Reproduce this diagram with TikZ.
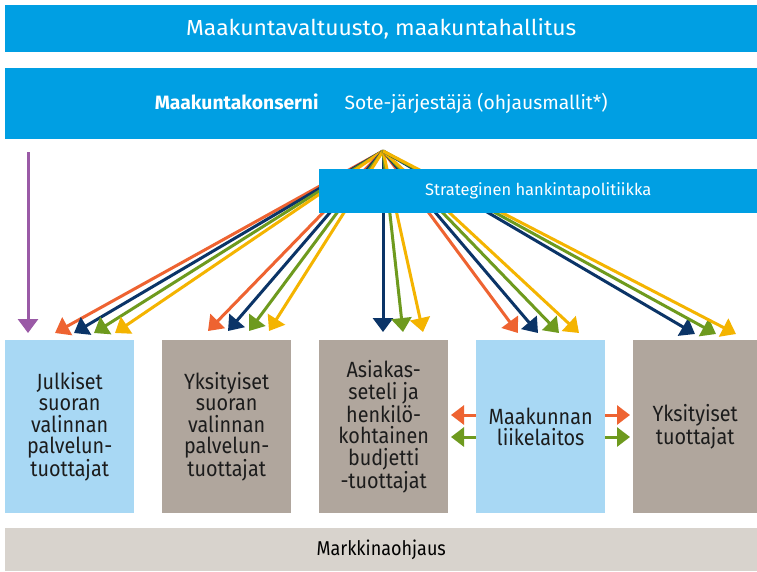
\documentclass[tikz,border=0pt]{standalone}
\usepackage{fontspec}
\setmainfont{Fira Sans}
\newfontfamily\unitfont{Fira Sans}[FakeStretch=0.9]
\newfontfamily\widefont{Fira Sans}[FakeStretch=1.05]
\usetikzlibrary{arrows.meta}
\definecolor{barblue}{HTML}{009FE3}
\definecolor{paleblue}{HTML}{A8D8F4}
\definecolor{taupe}{HTML}{B0A69D}
\definecolor{sand}{HTML}{D8D3CD}
\definecolor{arrorange}{HTML}{EE6331}
\definecolor{arrnavy}{HTML}{0B3467}
\definecolor{arrgreen}{HTML}{6E9A1E}
\definecolor{arryellow}{HTML}{F4B400}
\definecolor{arrpurple}{HTML}{9A5AA6}
\definecolor{inktext}{HTML}{1C1C1C}
\tikzset{
  bar/.style={fill=barblue, draw=none, anchor=north west, inner sep=0pt, text=white},
  unit/.style={draw=none, anchor=north west, inner sep=0pt, minimum width=129pt,
    minimum height=173pt, align=center, text=inktext,
    font=\unitfont\fontsize{22}{21.5}\selectfont},
  fanline/.style={line width=3pt, -{Triangle[length=14pt,width=20pt]}},
  sideline/.style={line width=3pt, -{Triangle[length=13pt,width=19pt]}}
}
\begin{document}
\begin{tikzpicture}[x=1pt,y=-1pt]
\useasboundingbox (0,0) rectangle (757,571);
\fill[white] (0,0) rectangle (757,571);

% governing bodies
\node[bar, minimum width=752pt, minimum height=47pt,
  font=\widefont\fontsize{21.8}{24}\selectfont] (council) at (5,5)
  {Maakuntavaltuusto, maakuntahallitus};
\node[bar, minimum width=752pt, minimum height=71pt,
  font=\fontsize{19.3}{22}\selectfont] (group) at (5,68)
  {{\bfseries Maakuntakonserni}\hspace{26pt}Sote-järjestäjä (ohjausmallit*)};

% fan of steering arrows
\coordinate (fan) at (383,151);
\foreach \n/\x/\y/\c in {
   a1/55/333/arrorange, a2/74/333/arrnavy, a3/94/333/arrgreen, a4/115/333/arryellow,
   b1/208/331/arrorange, b2/228/331/arrnavy, b3/249/331/arrgreen, b4/269/331/arryellow,
   c2/383/332/arrnavy, c3/403/332/arrgreen, c4/423/332/arryellow,
   d1/518/333/arrorange, d2/538/333/arrnavy, d3/559/333/arrgreen, d4/579/333/arryellow,
   e2/695/334/arrnavy, e3/716/334/arrgreen, e4/736/334/arryellow}{
  \coordinate (\n) at (\x,\y);
  \draw[fanline, draw=\c, fill=\c] (fan) -- (\n);
}

% procurement policy box drawn over the fan
\node[bar, minimum width=438pt, minimum height=44pt,
  font=\fontsize{16.5}{18}\selectfont] (policy) at (319,169)
  {Strateginen hankintapolitiikka};

% direct arrow for public providers
\coordinate (p0) at (28,152);
\coordinate (p1) at (28,333);
\draw[fanline, draw=arrpurple, fill=arrpurple] (p0) -- (p1);

% provider units
\node[unit, fill=paleblue] (u1) at (5,340)
  {Julkiset\\suoran\\valinnan\\palvelun-\\tuottajat};
\node[unit, fill=taupe] (u2) at (162,340)
  {Yksityiset\\suoran\\valinnan\\palvelun-\\tuottajat};
\node[unit, fill=taupe] (u3) at (319,340)
  {Asiakas-\\seteli ja\\henkilö-\\kohtainen\\budjetti\\-tuottajat};
\node[unit, fill=paleblue] (u4) at (476,340)
  {Maakunnan\\liikelaitos};
\node[unit, fill=taupe, minimum width=124pt] (u5) at (633,340)
  {Yksityiset\\tuottajat};

% arrows out of the business unit
\coordinate (l1) at (451,415);
\coordinate (l2) at (451,437);
\coordinate (r1) at (630,415);
\coordinate (r2) at (630,437);
\draw[sideline, draw=arrorange, fill=arrorange] (u4.west |- l1) -- (l1);
\draw[sideline, draw=arrgreen, fill=arrgreen] (u4.west |- l2) -- (l2);
\draw[sideline, draw=arrorange, fill=arrorange] (u4.east |- r1) -- (r1);
\draw[sideline, draw=arrgreen, fill=arrgreen] (u4.east |- r2) -- (r2);

% market steering
\node[bar, fill=sand, text=black, minimum width=752pt, minimum height=43pt,
  font=\unitfont\fontsize{20}{22}\selectfont] (market) at (5,528) {Markkinaohjaus};
\end{tikzpicture}
\end{document}
